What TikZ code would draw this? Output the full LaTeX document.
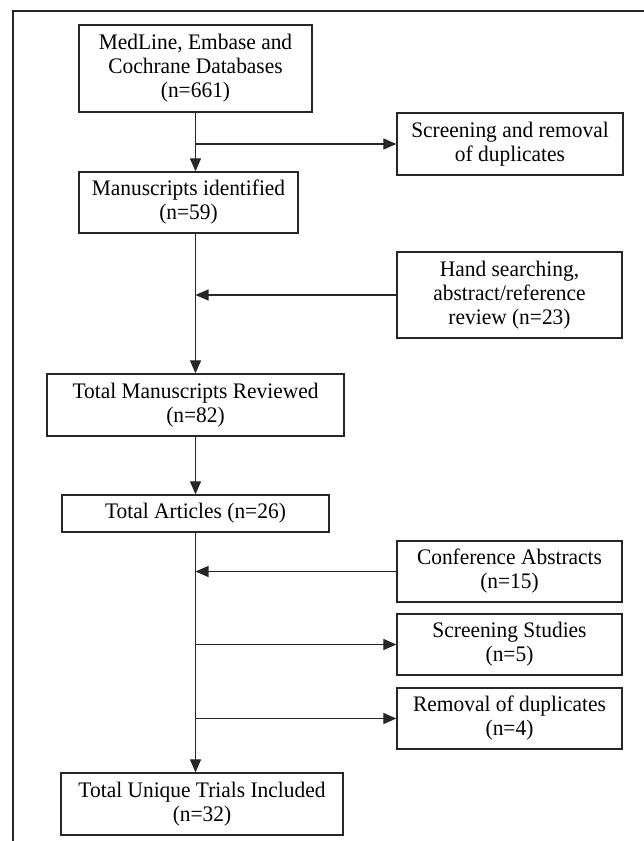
\documentclass[tikz,border=0pt]{standalone}
\usepackage{fontspec}
\setmainfont[FakeStretch=0.965]{Liberation Serif}
\usetikzlibrary{arrows.meta}
\tikzset{
	box/.style={draw=black!85, line width=1.3pt, inner sep=0pt, align=center,
		font=\fontsize{22.2}{24}\selectfont},
	arr/.style={line width=1.2pt, draw=black!85, -{Triangle[length=13pt,width=11pt]}},
	ln/.style={line width=1.2pt, draw=black!85},
}
\begin{document}
\begin{tikzpicture}[x=1pt, y=-1pt]
	\useasboundingbox (0,0) rectangle (644,841);
	\draw[ln] (644,11) -- (13,11) -- (13,841);
	
	\node[box, minimum width=233pt, minimum height=87pt] (db) at (195.5,68.5) {MedLine, Embase and\\Cochrane Databases\\(n=661)};
	\node[box, minimum width=226pt, minimum height=62pt] (dup) at (510,144) {Screening and removal\\of duplicates};
	\node[box, minimum width=219pt, minimum height=61pt] (ident) at (188.5,202.5) {Manuscripts identified\\(n=59)};
	\node[box, minimum width=225pt, minimum height=86pt] (hand) at (509.5,295) {Hand searching,\\abstract/reference\\review (n=23)};
	\node[box, minimum width=297pt, minimum height=62pt] (rev) at (195.5,405) {Total Manuscripts Reviewed\\(n=82)};
	\node[box, minimum width=267pt, minimum height=37pt] (art) at (195.5,513.5) {Total Articles (n=26)};
	\node[box, minimum width=225pt, minimum height=61pt] (conf) at (509.5,571.5) {Conference Abstracts\\(n=15)};
	\node[box, minimum width=225pt, minimum height=61pt] (scr) at (509.5,644.5) {Screening Studies\\(n=5)};
	\node[box, minimum width=225pt, minimum height=61pt] (rem) at (509.5,718.5) {Removal of duplicates\\(n=4)};
	\node[box, minimum width=282pt, minimum height=62pt] (final) at (202,804) {Total Unique Trials Included\\(n=32)};
	
	\coordinate (j1) at (db.south |- dup.west);
	\coordinate (j2) at (rev.north |- hand.west);
	\coordinate (j3) at (art.south |- conf.west);
	\coordinate (j4) at (art.south |- scr.west);
	\coordinate (j5) at (art.south |- rem.west);
	
	\draw[arr] (db.south) -- (db.south |- ident.north);
	\draw[arr] (j1) -- (dup.west);
	\draw[arr] (rev.north |- ident.south) -- (rev.north);
	\draw[arr] (hand.west) -- (j2);
	\draw[arr] (rev.south) -- (art.north);
	\draw[arr] (art.south) -- (art.south |- final.north);
	\draw[arr] (conf.west) -- (j3);
	\draw[arr] (j4) -- (scr.west);
	\draw[arr] (j5) -- (rem.west);
\end{tikzpicture}
\end{document}
